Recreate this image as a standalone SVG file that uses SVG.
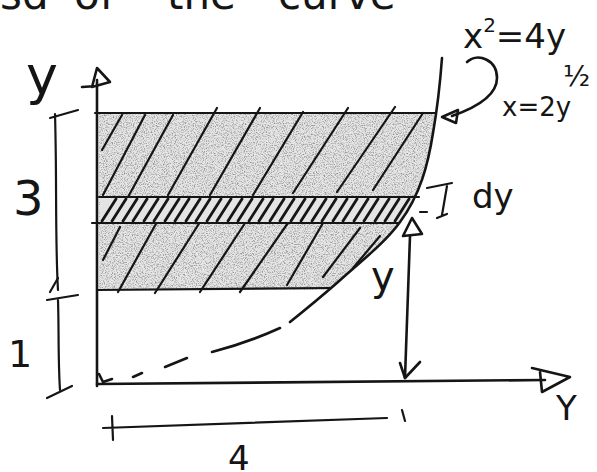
<svg xmlns="http://www.w3.org/2000/svg" width="597" height="472" viewBox="0 0 597 472">
<style>
  .ink{fill:none;stroke:#151515;stroke-linecap:round;stroke-linejoin:round}
  .ax{stroke-width:2.6}
  .th{stroke-width:2.2}
  .hw{font-family:"DejaVu Sans","Liberation Sans",sans-serif;fill:#151515}
</style>
<defs>
  <filter id="grain" x="0" y="0" width="100%" height="100%">
    <feTurbulence type="fractalNoise" baseFrequency="0.9" numOctaves="2" seed="7" result="n"/>
    <feColorMatrix in="n" type="matrix" values="0 0 0 0 0.3  0 0 0 0 0.3  0 0 0 0 0.3  3 0 0 0 -1.35" result="d"/>
    <feComposite in="d" in2="SourceGraphic" operator="in"/>
  </filter>
</defs>

<rect width="597" height="472" fill="#ffffff"/>

<!-- partially cut text at the top -->
<text class="hw" font-size="42" y="9"><tspan x="0">sd</tspan><tspan x="74">of</tspan><tspan x="167">the</tspan><tspan x="278">curve</tspan></text>

<g id="region">
  <path d="M99,113 L436.5,113 C435,120 434,127 433,133 C428,165 420,195 400,222 C385,243 360,262 338,282 L328,290 L99,290 Z" fill="#e6e6e6"/>
  <path d="M99,113 L436.5,113 C435,120 434,127 433,133 C428,165 420,195 400,222 C385,243 360,262 338,282 L328,290 L99,290 Z" fill="#888" filter="url(#grain)"/>
  <g class="ink th">
    <path d="M95,113 L436,113"/>
    <path d="M97,290 L330,288"/>
    <path d="M102,150 L122,115 M103,195 L145,115 M128,197 L173,115 M168,195 L217,108 M210,195 L260,108 M253,195 L303,112 M293,193 L348,108 M337,192 L395,107 M373,190 L423,113"/>
    <path d="M103,260 L120,227 M118,292 L157,222 M155,293 L200,222 M200,292 L247,220 M240,292 L290,220 M287,285 L323,223 M323,277 L360,228 M353,268 L380,236"/>
  </g>
</g>

<g id="strip">
  <path d="M100,197 L415,197 L399,223 L100,223 Z" fill="#e4e4e4"/>
  <path class="ink" stroke-width="2.8" d="M102,221 l14,-22 M112,221 l14,-22 M123,221 l14,-22 M133,221 l14,-22 M144,221 l14,-22 M154,221 l14,-22 M165,221 l14,-22 M175,221 l14,-22 M186,221 l14,-22 M196,221 l14,-22 M207,221 l14,-22 M217,221 l14,-22 M228,221 l14,-22 M238,221 l14,-22 M249,221 l14,-22 M259,221 l14,-22 M270,221 l14,-22 M280,221 l14,-22 M291,221 l14,-22 M301,221 l14,-22 M312,221 l14,-22 M322,221 l14,-22 M333,221 l14,-22 M343,221 l14,-22 M354,221 l14,-22 M364,221 l14,-22 M375,221 l14,-22 M385,221 l14,-22 M395,221 l14,-22"/>
  <g class="ink th">
    <path d="M99,197 L419,197"/>
    <path d="M92,223 L399,223"/>
  </g>
</g>

<g id="curve" class="ink ax">
  <path d="M442,58 C440,85 437,110 433,133 C428,165 420,195 400,222 C385,243 360,262 338,282 C322,296 305,310 290,322"/>
  <path d="M280,328 C258,338 235,346 212,352"/>
  <path d="M187,358 L165,367"/>
  <path d="M142,373 L133,377"/>
</g>

<g id="axes" class="ink ax">
  <path d="M97,386 L97,80"/>
  <path d="M92,87 L97,68 L110,82 Z M82,87 L97,86"/>
  <path d="M97,384 L545,380"/>
  <path d="M532,368 L570,377 L542,392 L540,372"/>
  <path d="M99,374 L103,382 L112,379"/>
</g>

<g id="connectors" class="ink ax">
  <path d="M467,62 C478,52 497,60 497,78 C497,96 475,108 452,116"/>
  <path d="M442,117 L458,110 L456,123 Z"/>
  <path d="M410,236 L405,378"/>
  <path d="M403,236 L412,218 L422,234 Z"/>
  <path d="M400,363 L405,378 L420,362"/>
</g>

<g id="dims" class="ink th">
  <path d="M50,118 L78,110"/>
  <path d="M55,114 C57,180 55,240 58,290"/>
  <path d="M47,300 L78,295 M50,292 L58,278"/>
  <path d="M58,300 C59,330 58,360 60,390"/>
  <path d="M47,398 L72,386"/>
  <path d="M103,428 L387,418 M112,416 L113,440 M402,410 L405,421"/>
  <path d="M427,188 L452,183 M447,186 L442,215 M437,218 L447,214 M420,212 L427,212"/>
</g>

<g id="labels">
  <text class="hw" x="26" y="94" font-size="54">y</text>
  <text class="hw" x="13" y="215" font-size="48">3</text>
  <text class="hw" x="8" y="367" font-size="38">1</text>
  <text class="hw" x="472" y="208" font-size="34">dy</text>
  <text class="hw" x="371" y="290" font-size="40">y</text>
  <text class="hw" x="463" y="48" font-size="34">x<tspan font-size="20" dy="-16">2</tspan><tspan dy="16">=4y</tspan></text>
  <text class="hw" x="502" y="116" font-size="26">x=2y<tspan font-size="28" dx="-8" dy="-30">½</tspan></text>
  <text class="hw" x="556" y="420" font-size="34">Y</text>
  <text class="hw" x="228" y="470" font-size="34">4</text>
</g>
</svg>
